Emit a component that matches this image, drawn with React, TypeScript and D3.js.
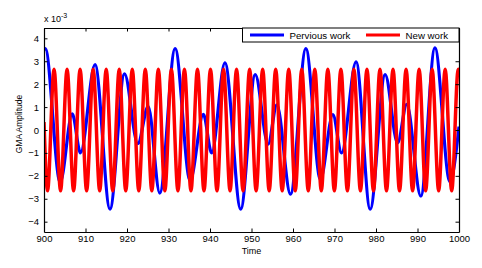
import React, { useEffect, useRef } from 'react';
import * as d3 from 'd3';

// values are in units of 1e-3 (the "x 10^-3" note on the y axis)
const seriesNames = ['Pervious work', 'New work'];
const seriesColors = ['#0000ff', '#ff0000'];

// previous work: turning points
const blueTime = [900, 900.3, 903.9, 906.8, 908.8, 912.3, 915.9, 919.4, 922.6, 925.1, 927.9,
  931.6, 935.2, 938.4, 940.4, 943.6, 947.4, 950.9, 954.0, 956.1, 959.4,
  963.1, 966.6, 969.6, 971.7, 975.2, 978.6, 982.2, 985.2, 987.4, 990.8,
  994.2, 997.8, 1000];
const blueValue = [3.5, 3.55, -2.28, 0.7, -1.0, 2.85, -3.45, 2.45, -0.6, 1.03, -2.75,
  3.55, -2.2, 0.68, -1.0, 2.93, -3.45, 2.42, -0.62, 1.1, -2.8,
  3.55, -2.15, 0.67, -1.0, 2.97, -3.45, 2.42, -0.57, 1.12, -2.88,
  3.58, -2.25, 0.15];

// new work: peaks and troughs
const redTime = [900, 900.85, 902.42, 903.99, 905.56, 907.13, 908.70, 910.27, 911.85, 913.42,
  914.99, 916.56, 918.13, 919.70, 921.27, 922.84, 924.41, 925.98, 927.55, 929.12,
  930.70, 932.27, 933.84, 935.41, 936.98, 938.55, 940.12, 941.69, 943.26, 944.83,
  946.40, 947.97, 949.55, 951.12, 952.69, 954.26, 955.83, 957.40, 958.97, 960.54,
  962.11, 963.68, 965.25, 966.82, 968.39, 969.97, 971.54, 973.11, 974.68, 976.25,
  977.82, 979.39, 980.96, 982.53, 984.10, 985.67, 987.25, 988.82, 990.39, 991.96,
  993.53, 995.10, 996.67, 998.24, 999.81, 1000];
const redValue = [0.35, -2.65, 2.65, -2.65, 2.65, -2.65, 2.65, -2.65, 2.65, -2.65,
  2.65, -2.65, 2.65, -2.65, 2.65, -2.65, 2.65, -2.65, 2.65, -2.65,
  2.65, -2.65, 2.65, -2.65, 2.65, -2.65, 2.65, -2.65, 2.65, -2.65,
  2.65, -2.65, 2.65, -2.65, 2.65, -2.65, 2.65, -2.65, 2.65, -2.65,
  2.65, -2.65, 2.65, -2.65, 2.65, -2.65, 2.65, -2.65, 2.65, -2.65,
  2.65, -2.65, 2.65, -2.65, 2.65, -2.65, 2.65, -2.65, 2.65, -2.65,
  2.65, -2.65, 2.65, -2.65, 2.65, 2.46];

const xTickValues = [900, 910, 920, 930, 940, 950, 960, 970, 980, 990, 1000];
const yTickValues = [-4, -3, -2, -1, 0, 1, 2, 3, 4];

const FONT = '"Liberation Sans", Arial, sans-serif';

export default function App() {
  const ref = useRef<SVGSVGElement>(null);

  useEffect(() => {
    const width = 482;
    const height = 268;
    const margin = { top: 28, right: 23, bottom: 36, left: 44 };

    const svg = d3.select(ref.current);
    svg.selectAll('*').remove();

    const x = d3.scaleLinear().domain([900, 1000]).range([margin.left, width - margin.right]);
    const y = d3.scaleLinear().domain([-4.45, 4.45]).range([height - margin.bottom, margin.top]);

    svg.append('defs').append('clipPath').attr('id', 'plotClip')
      .append('rect')
      .attr('x', x(900)).attr('y', y(4.45))
      .attr('width', x(1000) - x(900)).attr('height', y(-4.45) - y(4.45));

    const line = d3.line<[number, number]>()
      .x(d => x(d[0]))
      .y(d => y(d[1]))
      .curve(d3.curveMonotoneX);

    const plot = svg.append('g').attr('clip-path', 'url(#plotClip)');

    plot.append('path')
      .datum(blueTime.map((t, i) => [t, blueValue[i]] as [number, number]))
      .attr('fill', 'none')
      .attr('stroke', seriesColors[0])
      .attr('stroke-width', 3.2)
      .attr('stroke-linejoin', 'round')
      .attr('d', line);

    plot.append('path')
      .datum(redTime.map((t, i) => [t, redValue[i]] as [number, number]))
      .attr('fill', 'none')
      .attr('stroke', seriesColors[1])
      .attr('stroke-width', 3.5)
      .attr('stroke-linejoin', 'round')
      .attr('d', line);

    // matlab style box: ticks point inward on all four sides
    const styleAxis = (g: any) => {
      g.select('.domain').attr('stroke', '#000').attr('stroke-width', 1.2);
      g.selectAll('.tick line').attr('stroke', '#000').attr('stroke-width', 1);
      g.selectAll('text').attr('fill', '#000').style('font-family', FONT).style('font-size', '9.5px');
    };

    svg.append('g')
      .attr('transform', `translate(0,${y(-4.45)})`)
      .call(d3.axisBottom(x).tickValues(xTickValues).tickFormat(d3.format('d'))
        .tickSizeInner(-3.5).tickSizeOuter(0).tickPadding(3.5))
      .call(styleAxis);

    svg.append('g')
      .attr('transform', `translate(0,${y(4.45)})`)
      .call(d3.axisTop(x).tickValues(xTickValues).tickSizeInner(-3.5).tickSizeOuter(0).tickFormat(() => ''))
      .call(styleAxis);

    svg.append('g')
      .attr('transform', `translate(${x(900)},0)`)
      .call(d3.axisLeft(y).tickValues(yTickValues).tickFormat(d3.format('d'))
        .tickSizeInner(-3.5).tickSizeOuter(0).tickPadding(5))
      .call(styleAxis);

    svg.append('g')
      .attr('transform', `translate(${x(1000)},0)`)
      .call(d3.axisRight(y).tickValues(yTickValues).tickSizeInner(-3.5).tickSizeOuter(0).tickFormat(() => ''))
      .call(styleAxis);

    // exponent note
    const expo = svg.append('text')
      .attr('x', x(900))
      .attr('y', 22)
      .style('font-family', FONT)
      .style('font-size', '9px');
    expo.append('tspan').text('x 10');
    expo.append('tspan').attr('dy', -4.5).style('font-size', '7px').text('-3');

    // axis labels
    svg.append('text')
      .attr('x', (x(900) + x(1000)) / 2)
      .attr('y', 254)
      .attr('text-anchor', 'middle')
      .style('font-family', FONT)
      .style('font-size', '9px')
      .text('Time');

    svg.append('text')
      .attr('transform', `translate(22,${(y(4.45) + y(-4.45)) / 2 - 6}) rotate(-90)`)
      .attr('text-anchor', 'middle')
      .style('font-family', FONT)
      .style('font-size', '8.5px')
      .text('GMA Amplitude');

    // legend in the top right corner
    const legend = svg.append('g');
    legend.append('rect')
      .attr('x', 242.5).attr('y', y(4.45))
      .attr('width', x(1000) - 242.5).attr('height', 14)
      .attr('fill', '#fff').attr('stroke', '#000').attr('stroke-width', 1);

    const legendX = [250, 366];
    seriesNames.forEach((name, i) => {
      legend.append('line')
        .attr('x1', legendX[i]).attr('x2', legendX[i] + 34)
        .attr('y1', y(4.45) + 7).attr('y2', y(4.45) + 7)
        .attr('stroke', seriesColors[i]).attr('stroke-width', 3);
      legend.append('text')
        .attr('x', legendX[i] + 39.5)
        .attr('y', y(4.45) + 10.5)
        .style('font-family', FONT)
        .style('font-size', '9.7px')
        .text(name);
    });
  }, []);

  return (
    <svg ref={ref} width={482} height={268}
      style={{ position: 'absolute', left: 0, top: 0, background: '#fff' }} />
  );
}
